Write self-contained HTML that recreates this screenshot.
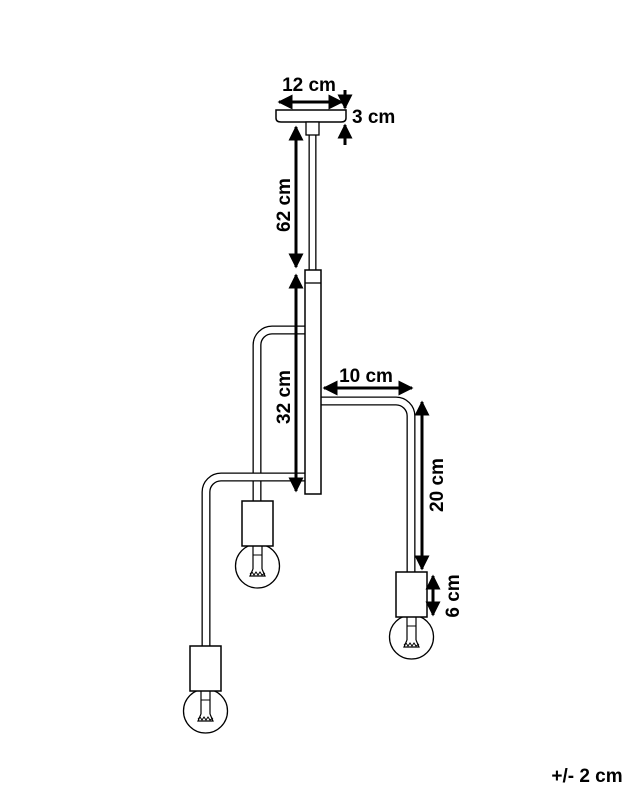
<!DOCTYPE html>
<html><head><style>
body{margin:0;background:#fff;}
svg{display:block;}
text{font-family:"Liberation Sans",sans-serif;font-weight:bold;font-size:19px;fill:#000;}
</style></head><body>
<svg width="640" height="800" viewBox="0 0 640 800" xmlns="http://www.w3.org/2000/svg">
<defs>
<marker id="a" viewBox="0 0 10 10" refX="9" refY="5" markerWidth="5" markerHeight="5" orient="auto-start-reverse" markerUnits="strokeWidth">
<path d="M0,0 L10,5 L0,10 z" fill="#000"/></marker>
<g id="bulb">
<circle cx="15.5" cy="65" r="22" fill="#fff" stroke="#000" stroke-width="1.3"/>
<rect x="0" y="0" width="31" height="45" fill="#fff" stroke="#000" stroke-width="1.5"/>
<line x1="11" y1="45" x2="11" y2="68" stroke="#000" stroke-width="1.2"/>
<line x1="20" y1="45" x2="20" y2="68" stroke="#000" stroke-width="1.2"/>
<line x1="11" y1="54" x2="20" y2="54" stroke="#000" stroke-width="1"/>
<path d="M11,68 L8,75 L23,75 L20,68" fill="none" stroke="#000" stroke-width="1.2"/>
<path d="M8,73 L10,71 L12,74 L14,71 L16,74 L18,71 L20,74 L23,72" fill="none" stroke="#000" stroke-width="1"/>
</g>
</defs>
<g fill="none" stroke-linecap="butt">
<path d="M305,330 H272 A15 15 0 0 0 257 345 V501" stroke="#000" stroke-width="9"/>
<path d="M305,330 H272 A15 15 0 0 0 257 345 V501" stroke="#fff" stroke-width="6.4"/>
<path d="M305,477 H221 A15 15 0 0 0 206 492 V646" stroke="#000" stroke-width="9"/>
<path d="M305,477 H221 A15 15 0 0 0 206 492 V646" stroke="#fff" stroke-width="6.4"/>
<path d="M321,401 H396 A15 15 0 0 1 411 416 V572" stroke="#000" stroke-width="9"/>
<path d="M321,401 H396 A15 15 0 0 1 411 416 V572" stroke="#fff" stroke-width="6.4"/>
<line x1="312.5" y1="135" x2="312.5" y2="271" stroke="#000" stroke-width="8"/>
<line x1="312.5" y1="135" x2="312.5" y2="271" stroke="#fff" stroke-width="5.4"/>
</g>
<path d="M276,110 H346 V118 Q346,122 341,122 H281 Q276,122 276,118 Z" fill="#fff" stroke="#000" stroke-width="1.5"/>
<rect x="306" y="122" width="13" height="13" fill="#fff" stroke="#000" stroke-width="1.3"/>
<rect x="305" y="270" width="16" height="224" fill="#fff" stroke="#000" stroke-width="1.5"/>
<line x1="305" y1="283" x2="321" y2="283" stroke="#000" stroke-width="1.3"/>
<use href="#bulb" x="242" y="501"/>
<use href="#bulb" x="190" y="646"/>
<use href="#bulb" x="396" y="572"/>
<g stroke="#000" stroke-width="3" fill="none">
<line x1="279" y1="102" x2="342" y2="102" marker-start="url(#a)" marker-end="url(#a)"/>
<line x1="345" y1="90" x2="345" y2="108" marker-end="url(#a)"/>
<line x1="345" y1="145" x2="345" y2="125" marker-end="url(#a)"/>
<line x1="296" y1="127" x2="296" y2="267" marker-start="url(#a)" marker-end="url(#a)"/>
<line x1="296" y1="275" x2="296" y2="491" marker-start="url(#a)" marker-end="url(#a)"/>
<line x1="324" y1="388" x2="412" y2="388" marker-start="url(#a)" marker-end="url(#a)"/>
<line x1="422" y1="402" x2="422" y2="569" marker-start="url(#a)" marker-end="url(#a)"/>
<line x1="433" y1="576" x2="433" y2="615" marker-start="url(#a)" marker-end="url(#a)"/>
</g>
<text x="309" y="91" text-anchor="middle">12 cm</text>
<text x="352" y="123">3 cm</text>
<text transform="translate(290,205) rotate(-90)" text-anchor="middle">62 cm</text>
<text transform="translate(290,397) rotate(-90)" text-anchor="middle">32 cm</text>
<text x="366" y="382" text-anchor="middle">10 cm</text>
<text transform="translate(443,485) rotate(-90)" text-anchor="middle">20 cm</text>
<text transform="translate(459,596) rotate(-90)" text-anchor="middle">6 cm</text>
<text x="587" y="782" text-anchor="middle">+/- 2 cm</text>
</svg>
</body></html>
